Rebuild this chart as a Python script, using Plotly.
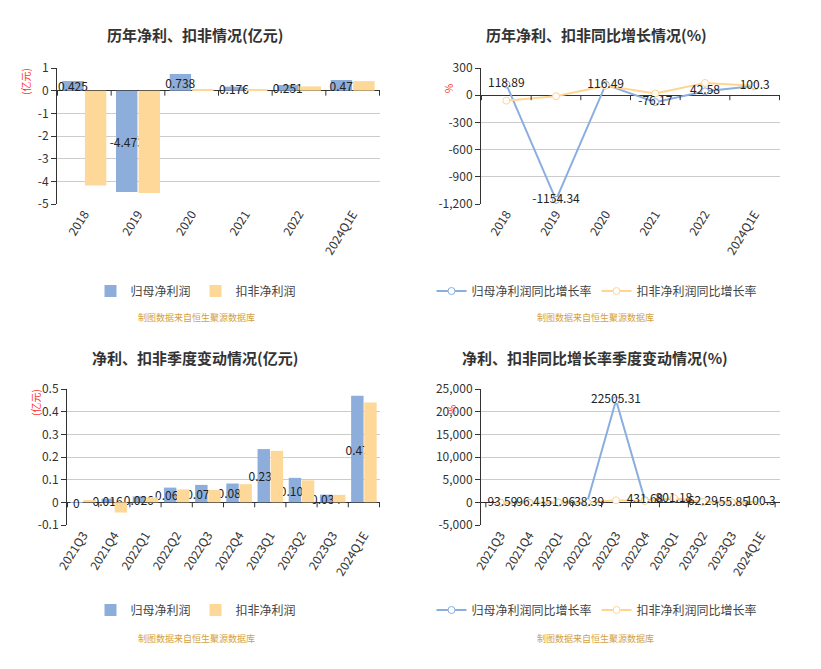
import plotly.graph_objects as go

# ---------------- data ----------------
years = ["2018", "2019", "2020", "2021", "2022", "2024Q1E"]
np_annual = [0.425, -4.473, 0.738, 0.176, 0.251, 0.47]
kf_annual = [-4.18, -4.51, 0.06, 0.07, 0.19, 0.42]
np_yoy = [118.89, -1154.34, 116.49, -76.17, 42.58, 100.3]
kf_yoy = [-60, -11, 105, 19, 135, 105]

quarters = ["2021Q3", "2021Q4", "2022Q1", "2022Q2", "2022Q3", "2022Q4",
            "2023Q1", "2023Q2", "2023Q3", "2024Q1E"]
np_q = [0.0003, 0.016, 0.026, 0.065, 0.077, 0.083, 0.235, 0.108, 0.034, 0.47]
kf_q = [0.01, -0.045, 0.022, 0.057, 0.055, 0.08, 0.227, 0.097, 0.033, 0.44]
np_q_yoy = [-93.59, -96.41, -51.96, -38.39, 22505.31, 431.68, 801.18, 62.29, -55.85, 100.3]
kf_q_yoy = [-80, -180, -60, -40, 450, 280, 930, 70, -40, 94]

y1_ticks = [1, 0, -1, -2, -3, -4, -5]
y1_text = ["1", "0", "-1", "-2", "-3", "-4", "-5"]
y2_ticks = [300, 0, -300, -600, -900, -1200]
y2_text = ["300", "0", "-300", "-600", "-900", "-1,200"]
y3_ticks = [0.5, 0.4, 0.3, 0.2, 0.1, 0, -0.1]
y3_text = ["0.5", "0.4", "0.3", "0.2", "0.1", "0", "-0.1"]
y4_ticks = [25000, 20000, 15000, 10000, 5000, 0, -5000]
y4_text = ["25,000", "20,000", "15,000", "10,000", "5,000", "0", "-5,000"]

titles = ["历年净利、扣非情况(亿元)", "历年净利、扣非同比增长情况(%)",
          "净利、扣非季度变动情况(亿元)", "净利、扣非同比增长率季度变动情况(%)"]
name_np = "归母净利润"
name_kf = "扣非净利润"
name_np_yoy = "归母净利润同比增长率"
name_kf_yoy = "扣非净利润同比增长率"
source = "制图数据来自恒生聚源数据库"

# ---------------- style ----------------
W, H = 821, 669
OFF = 8                      # default body margin of the page
FW, FH = W - 2 * OFF, H - 2 * OFF
FONT = "Noto Sans CJK SC, Noto Sans, sans-serif"
BLUE = "#8daedb"
ORANGE = "#fed898"
BLUE_L = "#8aaee0"
ORANGE_L = "#ffd591"
TXT = "#333333"


def px_x(p):
    return (p - OFF) / FW


def px_y(p):
    return 1 - (p - OFF) / FH


def fmt(v, d):
    s = f"{v:.{d}f}".rstrip("0").rstrip(".")
    return "0" if s in ("-0", "") else s


fig = go.Figure()

# chart 1 bars
fig.add_trace(go.Bar(x=years, y=np_annual, name=name_np, marker_color=BLUE,
                     text=[fmt(v, 3) for v in np_annual], textposition="inside",
                     insidetextanchor="middle", constraintext="none", textangle=0,
                     textfont=dict(size=12, color="#222"), cliponaxis=False,
                     xaxis="x", yaxis="y", legend="legend"))
fig.add_trace(go.Bar(x=years, y=kf_annual, name=name_kf, marker_color=ORANGE,
                     xaxis="x", yaxis="y", legend="legend"))

# chart 2 lines
fig.add_trace(go.Scatter(x=years, y=np_yoy, name=name_np_yoy, mode="lines+markers",
                         line=dict(color=BLUE_L, width=2),
                         marker=dict(size=7, color="white", line=dict(color=BLUE_L, width=1)),
                         xaxis="x2", yaxis="y2", legend="legend2"))
fig.add_trace(go.Scatter(x=years, y=kf_yoy, name=name_kf_yoy, mode="lines+markers",
                         line=dict(color=ORANGE_L, width=2),
                         marker=dict(size=7, color="white", line=dict(color=ORANGE_L, width=1)),
                         xaxis="x2", yaxis="y2", legend="legend2"))
fig.add_trace(go.Scatter(x=years, y=np_yoy, mode="text", text=[fmt(v, 2) for v in np_yoy],
                         textposition="middle center", textfont=dict(size=12, color="#222"),
                         showlegend=False, cliponaxis=False, xaxis="x2", yaxis="y2"))

# chart 3 bars
fig.add_trace(go.Bar(x=quarters, y=np_q, name=name_np, marker_color=BLUE,
                     text=[fmt(v, 3) for v in np_q], textposition="inside",
                     insidetextanchor="middle", constraintext="none", textangle=0,
                     textfont=dict(size=12, color="#222"), cliponaxis=False,
                     xaxis="x3", yaxis="y3", legend="legend3"))
fig.add_trace(go.Bar(x=quarters, y=kf_q, name=name_kf, marker_color=ORANGE,
                     xaxis="x3", yaxis="y3", legend="legend3"))

# chart 4 lines
fig.add_trace(go.Scatter(x=quarters, y=np_q_yoy, name=name_np_yoy, mode="lines+markers",
                         line=dict(color=BLUE_L, width=2),
                         marker=dict(size=7, color="white", line=dict(color=BLUE_L, width=1)),
                         xaxis="x4", yaxis="y4", legend="legend4"))
fig.add_trace(go.Scatter(x=quarters, y=kf_q_yoy, name=name_kf_yoy, mode="lines+markers",
                         line=dict(color=ORANGE_L, width=2),
                         marker=dict(size=7, color="white", line=dict(color=ORANGE_L, width=1)),
                         xaxis="x4", yaxis="y4", legend="legend4"))
fig.add_trace(go.Scatter(x=quarters, y=np_q_yoy, mode="text", text=[fmt(v, 2) for v in np_q_yoy],
                         textposition="middle center", textfont=dict(size=12, color="#222"),
                         showlegend=False, cliponaxis=False, xaxis="x4", yaxis="y4"))

# ---------------- axes ----------------
xdom_l = [px_x(57), px_x(380)]
xdom_l3 = [px_x(67), px_x(380)]
xdom_r = [px_x(481), px_x(780)]
ydom_t = [px_y(204), px_y(68)]
ydom_b = [px_y(525), px_y(389)]


def xax(dom, anchor):
    return dict(domain=dom, anchor=anchor, type="category", showgrid=False, showline=False,
                ticks="", tickangle=-58, tickfont=dict(size=12, color=TXT), zeroline=False,
                fixedrange=True, automargin=False)


def yax(dom, anchor, rng, tv, tt):
    return dict(domain=dom, anchor=anchor, range=rng, tickvals=tv, ticktext=tt,
                showgrid=True, gridcolor="#cccccc", gridwidth=1,
                showline=True, linecolor=TXT, linewidth=1,
                ticks="outside", ticklen=5, tickcolor=TXT,
                tickfont=dict(size=12, color=TXT),
                zeroline=True, zerolinecolor=TXT, zerolinewidth=1, fixedrange=True,
                automargin=False)


legend_common = dict(orientation="h", xanchor="center", yanchor="middle",
                     font=dict(size=12, color="#444", family=FONT), bgcolor="rgba(0,0,0,0)",
                     itemclick=False, itemdoubleclick=False)

fig.update_layout(
    template="none",
    width=FW, height=FH, margin=dict(l=0, r=0, t=0, b=0, autoexpand=False),
    paper_bgcolor="white", plot_bgcolor="white",
    font=dict(family=FONT, color=TXT),
    barmode="group", bargap=0.16, bargroupgap=0.05,
    xaxis=xax(xdom_l, "y"), yaxis=yax(ydom_t, "x", [-5, 1], y1_ticks, y1_text),
    xaxis2=xax(xdom_r, "y2"), yaxis2=yax(ydom_t, "x2", [-1200, 300], y2_ticks, y2_text),
    xaxis3=xax(xdom_l3, "y3"), yaxis3=yax(ydom_b, "x3", [-0.1, 0.5], y3_ticks, y3_text),
    xaxis4=xax(xdom_r, "y4"), yaxis4=yax(ydom_b, "x4", [-5000, 25000], y4_ticks, y4_text),
    legend=dict(x=px_x(196), y=px_y(291), **legend_common),
    legend2=dict(x=px_x(597), y=px_y(291), **legend_common),
    legend3=dict(x=px_x(196), y=px_y(610), **legend_common),
    legend4=dict(x=px_x(597), y=px_y(610), **legend_common),
    showlegend=True,
)

# category-boundary ticks on the zero line
shapes = []
for xa, ya, cats in [("x", "y", years), ("x2", "y2", years), ("x3", "y3", quarters), ("x4", "y4", quarters)]:
    for i in range(len(cats) + 1):
        shapes.append(dict(type="line", xref=xa, yref=ya, x0=i - 0.5, x1=i - 0.5,
                           ysizemode="pixel", yanchor=0, y0=0, y1=-5,
                           line=dict(color=TXT, width=1)))
fig.update_layout(shapes=shapes)

# titles, axis names, source notes
ann = []
for (cx, cy), t in zip([(195, 35), (596, 35), (195, 357), (595, 357)], titles):
    ann.append(dict(text=f"<b>{t}</b>", x=px_x(cx), y=px_y(cy), xref="paper", yref="paper",
                    showarrow=False, xanchor="center", yanchor="middle",
                    font=dict(size=15, color=TXT, family=FONT)))
for (cx, cy), t in zip([(25, 82), (449, 88), (35, 402), (451, 410)], ["(亿元)", "%", "(亿元)", "%"]):
    ann.append(dict(text=t, x=px_x(cx), y=px_y(cy), xref="paper", yref="paper", showarrow=False,
                    xanchor="center", yanchor="middle", textangle=-90,
                    font=dict(size=10, color="#ff3333", family=FONT)))
for cx, cy in [(196, 318), (595, 318), (196, 638), (595, 638)]:
    ann.append(dict(text=source, x=px_x(cx), y=px_y(cy), xref="paper", yref="paper", showarrow=False,
                    xanchor="center", yanchor="middle",
                    font=dict(size=9, color="#d4a03c", family=FONT)))
fig.update_layout(annotations=ann)

fig.write_html("out.html")
